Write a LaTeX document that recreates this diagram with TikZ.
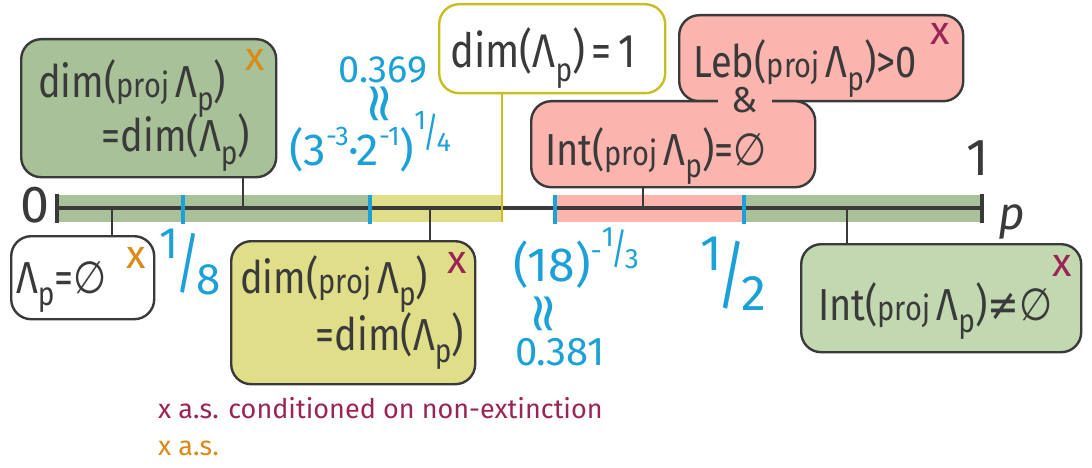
\documentclass[tikz,border=0pt]{standalone}
\usepackage{fontspec}
\setmainfont{Fira Sans}
\newfontfamily\sym{DejaVu Sans}
\definecolor{ink}{HTML}{3A3A3A}
\definecolor{gband}{HTML}{A9C19A}
\definecolor{gbox}{HTML}{A8C198}
\definecolor{glight}{HTML}{C2D8B0}
\definecolor{yband}{HTML}{E1DE8A}
\definecolor{yline}{HTML}{C8BE22}
\definecolor{pinkf}{HTML}{FBB4AE}
\definecolor{blu}{HTML}{1BA1D8}
\definecolor{crim}{HTML}{9B2456}
\definecolor{orng}{HTML}{D98A17}
\newcommand{\PJ}{{\fontsize{29}{29}\selectfont proj}}
\newcommand{\Lp}{Λ\raisebox{-0.28em}{\fontsize{28}{28}\selectfont p}}
\newcommand{\ES}{{\sym ∅}}
\newcommand{\T}[1]{\scalebox{1}[1.18]{#1}}
\newcommand{\slfrac}[2]{\raisebox{.5em}{#1}\kern-.08em\raisebox{-.12em}{\scalebox{1.1}[1.5]{/}}\kern-.1em\raisebox{-.3em}{#2}}
\begin{document}
\begin{tikzpicture}[x=1pt,y=-1pt,
  box/.style={draw=ink,line width=2.4pt,rounded corners=20pt,inner sep=0pt,anchor=north west},
  lbl/.style={font=\fontsize{38}{40}\selectfont,text=ink,inner sep=0pt,anchor=base west},
  blab/.style={text=blu,inner sep=0pt},
  stem/.style={draw=ink,line width=2.4pt},
  btick/.style={draw=blu,line width=3.5pt},
  axl/.style={draw=ink,line width=4.5pt},
  mk/.style={font=\fontsize{40}{40}\selectfont,inner sep=0pt}]
\useasboundingbox (0,0) rectangle (1092,468);
% bands
\fill[gband] (57,195) rectangle (370,222);
\fill[yband] (370,195) rectangle (502,222);
\fill[pinkf] (555,195) rectangle (744,222);
\fill[gband] (744,195) rectangle (982,222);
% axis
\coordinate (A0) at (57,208);
\coordinate (A1) at (982,208);
\draw[axl] (A0) -- (A1);
\draw[axl] (57,194) -- (57,223);
\draw[axl] (982,194) -- (982,223);
% boxes
\node[box,fill=gbox,minimum width=255pt,minimum height=138pt] (gtop) at (20,38) {};
\node[box,fill=white,minimum width=143pt,minimum height=83pt] (empty) at (10,235) {};
\node[box,fill=yband,minimum width=244pt,minimum height=143pt] (ybot) at (230,240) {};
\node[box,draw=yline,fill=white,minimum width=226pt,minimum height=89pt] (dimone) at (438,3) {};
\node[box,fill=pinkf,minimum width=284pt,minimum height=86pt] (leb) at (678,14) {};
\node[box,fill=pinkf,minimum width=284pt,minimum height=86pt] (int) at (530,100) {};
\node[box,fill=glight,minimum width=280pt,minimum height=108pt] (gbot) at (800,243) {};
% stems
\coordinate (s1) at (243,208);
\coordinate (s2) at (112,208);
\coordinate (s3) at (430,208);
\coordinate (s4) at (643,208);
\coordinate (s5) at (847,208);
\coordinate (yl) at (502,222);
\draw[stem] (s1) -- (s1 |- gtop.south);
\draw[stem] (s2) -- (s2 |- empty.north);
\draw[stem] (s3) -- (s3 |- ybot.north);
\draw[stem] (s4) -- (s4 |- int.south);
\draw[stem] (s5) -- (s5 |- gbot.north);
\draw[yline,line width=2.2pt] (yl) -- (yl |- dimone.south);
% blue ticks
\draw[btick] (183,195) -- (183,224);
\draw[btick] (370,195) -- (370,224);
\draw[btick] (555,195) -- (555,224);
\draw[btick] (744,195) -- (744,224);
% box texts
\node[lbl] (t1a) at (38,98) {\T{dim(\PJ\,\Lp)}};
\node[lbl,anchor=base east] (t1b) at (250,152) {\T{=dim(\Lp)}};
\node[lbl] (t2) at (16,293) {\T{\Lp=\ES}};
\node[lbl] (t3a) at (240,293) {\T{dim(\PJ\,\Lp)}};
\node[lbl,anchor=base east] (t3b) at (464,350) {\T{=dim(\Lp)}};
\node[lbl,font=\fontsize{40}{40}\selectfont] (t4) at (450,68) {\T{dim(\Lp)\,=\,1}};
\node[lbl] (t5) at (693,78) {\T{Leb(\PJ\,\Lp)>0}};
\node[lbl] (t6) at (545,165) {\T{Int(\PJ\,\Lp)=\ES}};
\node[lbl] (t7) at (818,320) {\T{Int(\PJ\,\Lp){\sym ≠}\ES}};
\node[font=\fontsize{36}{36}\selectfont,text=ink,fill=pinkf,inner sep=1pt,minimum width=54pt] (amp) at (745,100) {\&};
% marks
\node[mk,text=orng] (m1) at (255,60) {x};
\node[mk,text=orng] (m2) at (136,258) {x};
\node[mk,text=crim] (m3) at (457,263) {x};
\node[mk,text=crim] (m4) at (940,34) {x};
\node[mk,text=crim] (m5) at (1062,266) {x};
% axis labels
\node[font=\fontsize{52}{52}\selectfont,text=ink,inner sep=0pt] (zero) at (35,205) {0};
\node[font=\fontsize{52}{52}\selectfont,text=ink,inner sep=0pt] (one) at (978,158) {1};
\node[font=\fontsize{46}{46}\selectfont\itshape,text=ink,inner sep=0pt] (pp) at (1012,222) {p};
% blue labels
\node[blab,font=\fontsize{44}{44}\selectfont] (f18) at (190,262) {\slfrac{1}{8}};
\node[blab,font=\fontsize{38}{38}\selectfont] (v369) at (383,70) {0.369};
\node[blab,font=\fontsize{54}{54}\selectfont\sym,rotate=90] (ap1) at (383,104) {≈};
\node[blab,font=\fontsize{45}{45}\selectfont] (c369) at (370,142) {(3\raisebox{.45em}{\fontsize{27}{27}\selectfont -3}·2\raisebox{.45em}{\fontsize{27}{27}\selectfont -1})\raisebox{.5em}{\fontsize{27}{27}\selectfont\slfrac{1}{4}}};
\node[blab,font=\fontsize{48}{48}\selectfont] (c381) at (576,258) {(18)\raisebox{.45em}{\fontsize{28}{28}\selectfont -\slfrac{1}{3}}};
\node[blab,font=\fontsize{54}{54}\selectfont\sym,rotate=90] (ap2) at (547,314) {≈};
\node[blab,font=\fontsize{40}{40}\selectfont] (v381) at (560,352) {0.381};
\node[blab,font=\fontsize{50}{50}\selectfont] (f12) at (733,274) {\slfrac{1}{2}};
% legend
\node[text=crim,font=\fontsize{27}{27}\selectfont,inner sep=0pt,anchor=base west] (leg1) at (158,418) {x a.s. conditioned on non-extinction};
\node[text=orng,font=\fontsize{27}{27}\selectfont,inner sep=0pt,anchor=base west] (leg2) at (158,455) {x a.s.};
\end{tikzpicture}
\end{document}
